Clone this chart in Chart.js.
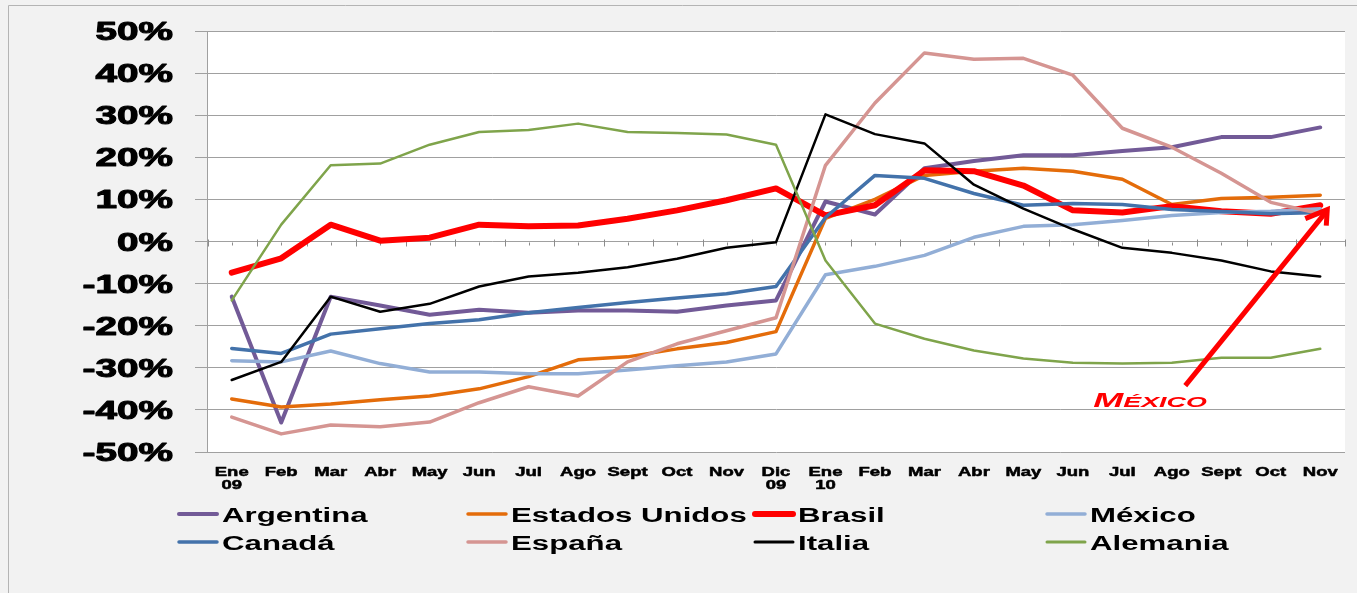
<!DOCTYPE html>
<html>
<head>
<meta charset="utf-8">
<script src="https://cdn.jsdelivr.net/npm/chart.js@4/dist/chart.umd.min.js"></script>
<style>
  html, body { margin: 0; padding: 0; background: #f2f2f2; }
  canvas { display: block; }
</style>
</head>
<body>
<canvas id="chart" width="1357" height="593"></canvas>
<script>
// ── Data (percent change) ──────────────────────────────────────────────────
const months = [['Ene', '09'], 'Feb', 'Mar', 'Abr', 'May', 'Jun', 'Jul', 'Ago', 'Sept', 'Oct', 'Nov', ['Dic', '09'],
                ['Ene', '10'], 'Feb', 'Mar', 'Abr', 'May', 'Jun', 'Jul', 'Ago', 'Sept', 'Oct', 'Nov'];
const yTicks = [-50, -40, -30, -20, -10, 0, 10, 20, 30, 40, 50];

const argentina     = [-13.1, -43, -13.1, -15.2, -17.4, -16.2, -16.9, -16.4, -16.4, -16.7, -15.2, -14, 9.5, 6.4, 17.4, 19.1, 20.5, 20.5, 21.5, 22.4, 24.8, 24.8, 27.1];
const estadosUnidos = [-37.4, -39.3, -38.6, -37.6, -36.7, -35, -32.1, -28.1, -27.4, -25.5, -24, -21.4, 5.5, 10, 15.7, 16.7, 17.4, 16.7, 14.8, 8.8, 10.2, 10.5, 11];
const brasil        = [-7.4, -4, 4, 0.2, 0.9, 4, 3.6, 3.8, 5.4, 7.4, 9.8, 12.6, 6.2, 8.6, 16.9, 16.7, 13.3, 7.4, 6.9, 8.4, 7.2, 6.6, 8.6];
const mexico        = [-28.3, -28.6, -26, -29, -31, -31, -31.4, -31.4, -30.5, -29.5, -28.6, -26.7, -7.9, -5.9, -3.3, 1, 3.6, 4, 5, 6.2, 6.9, 7.2, 7.8];
const canada        = [-25.4, -26.6, -22, -20.7, -19.5, -18.6, -16.9, -15.7, -14.5, -13.4, -12.4, -10.7, 5.7, 15.7, 15, 11.4, 8.6, 9, 8.8, 7.6, 7.1, 6.6, 6.9];
const espana        = [-41.7, -45.7, -43.6, -44, -42.9, -38.3, -34.5, -36.7, -28.6, -24.3, -21.2, -18.1, 18.1, 32.9, 44.8, 43.3, 43.5, 39.5, 26.9, 22.4, 16.2, 9.3, 6.6];
const italia        = [-32.9, -28.6, -13.1, -16.7, -14.8, -10.7, -8.3, -7.4, -6.1, -4.1, -1.5, -0.2, 30.2, 25.5, 23.3, 13.5, 7.8, 2.9, -1.5, -2.7, -4.5, -7.1, -8.3];
const alemania      = [-14, 4, 18.1, 18.5, 23, 26, 26.5, 28, 26, 25.8, 25.4, 23, -4.5, -19.5, -23.1, -25.9, -27.8, -28.8, -29, -28.8, -27.6, -27.6, -25.5];

const series = [
  { name: 'Argentina',      data: argentina,     color: '#725a97', width: 4 },
  { name: 'Estados Unidos', data: estadosUnidos, color: '#e46c0a', width: 3.5 },
  { name: 'Brasil',         data: brasil,        color: '#ff0000', width: 6 },
  { name: 'México',         data: mexico,        color: '#92aed6', width: 3.5 },
  { name: 'Canadá',         data: canada,        color: '#4372aa', width: 3.5 },
  { name: 'España',         data: espana,        color: '#d59592', width: 3.5 },
  { name: 'Italia',         data: italia,        color: '#000000', width: 2.5 },
  { name: 'Alemania',       data: alemania,      color: '#7fa44b', width: 2.5 },
];

// ── Helpers ────────────────────────────────────────────────────────────────
const FONT = '"Liberation Sans", Arial, sans-serif';

// text in the original is drawn horizontally stretched (and heavy)
function wideText(ctx, txt, x, y, sx, align, heavy) {
  const w = ctx.measureText(txt).width * sx;
  const left = align === 'right' ? x - w : align === 'center' ? x - w / 2 : x;
  ctx.save();
  ctx.translate(left, y);
  ctx.scale(sx, 1);
  ctx.textAlign = 'left';
  ctx.fillText(txt, 0, 0);
  if (heavy) {
    ctx.strokeStyle = ctx.fillStyle;
    ctx.lineWidth = heavy;
    ctx.lineJoin = 'round';
    ctx.strokeText(txt, 0, 0);
  }
  ctx.restore();
  return w;
}

const excelLook = {
  id: 'excelLook',
  beforeDraw(chart) {
    const { ctx, chartArea: a } = chart;
    ctx.save();
    ctx.fillStyle = '#ffffff';
    ctx.fillRect(a.left, a.top, a.right - a.left, a.bottom - a.top);
    ctx.strokeStyle = '#b4b4b4';
    ctx.lineWidth = 1;
    ctx.beginPath();
    ctx.moveTo(8.5, chart.height);
    ctx.lineTo(8.5, 5.5);
    ctx.lineTo(chart.width, 5.5);
    ctx.stroke();
    ctx.restore();
  },
  beforeDatasetsDraw(chart) {
    // category axis crossing at 0 with tick marks
    const { ctx, scales: { x, y } } = chart;
    const y0 = Math.round(y.getPixelForValue(0)) + 0.5;
    const half = (x.getPixelForValue(1) - x.getPixelForValue(0)) / 2;
    ctx.save();
    ctx.strokeStyle = '#8c8c8c';
    ctx.lineWidth = 1;
    ctx.beginPath();
    for (let i = 0; i < months.length; i++) {
      const cx = Math.round(x.getPixelForValue(i)) + 0.5;
      ctx.moveTo(cx, y0); ctx.lineTo(cx, y0 + 3);
      const bx = Math.round(cx - half) + 0.5;
      ctx.moveTo(bx, y0 - 3); ctx.lineTo(bx, y0 + 4);
    }
    const ex = Math.round(x.getPixelForValue(months.length - 1) + half) + 0.5;
    ctx.moveTo(ex, y0 - 3); ctx.lineTo(ex, y0 + 4);
    ctx.stroke();
    ctx.restore();
  },
  afterDraw(chart) {
    const { ctx, scales: { x, y } } = chart;
    ctx.save();
    ctx.fillStyle = '#000';
    ctx.textBaseline = 'alphabetic';

    // y tick labels
    ctx.font = 'bold 25px ' + FONT;
    y.ticks.forEach(t => {
      wideText(ctx, t.value + '%', 173, y.getPixelForValue(t.value) + 9, 1.55, 'right', 1);
    });

    // x tick labels
    ctx.font = 'bold 12.5px ' + FONT;
    months.forEach((m, i) => {
      const lines = Array.isArray(m) ? m : [m];
      const cx = x.getPixelForValue(i);
      lines.forEach((s, k) => wideText(ctx, s, cx, 476 + k * 13, 1.48, 'center', 0.5));
    });

    // legend, 4 columns x 2 rows
    const cols = [177, 466, 753, 1045];
    const rows = [514, 542];
    ctx.font = 'bold 19.5px ' + FONT;
    series.forEach((s, i) => {
      const lx = cols[i % 4], ly = rows[Math.floor(i / 4)];
      ctx.strokeStyle = s.color;
      ctx.lineWidth = Math.max(3, s.width);
      ctx.lineCap = 'round';
      ctx.beginPath();
      ctx.moveTo(lx + 2, ly); ctx.lineTo(lx + 40, ly);
      ctx.stroke();
      wideText(ctx, s.name, lx + 45, ly + 8, 1.6, 'left');
    });

    // MÉXICO arrow annotation
    const tipX = x.getPixelForValue(months.length - 1) + 7;
    const tipY = y.getPixelForValue(mexico[mexico.length - 1]) + 1;
    const tailX = tipX - 142, tailY = tipY + 176;
    ctx.strokeStyle = '#ff0000';
    ctx.lineWidth = 5;
    ctx.lineCap = 'butt';
    ctx.lineJoin = 'miter';
    ctx.beginPath();
    ctx.moveTo(tailX, tailY); ctx.lineTo(tipX - 1, tipY + 2);
    ctx.stroke();
    ctx.beginPath();
    ctx.moveTo(tipX - 22, tipY + 9);
    ctx.lineTo(tipX, tipY);
    ctx.lineTo(tipX - 1, tipY + 16);
    ctx.stroke();

    ctx.fillStyle = '#ff0000';
    const tx = tailX - 92, ty = tailY + 21;
    ctx.font = 'italic bold 19.5px ' + FONT;
    const wM = wideText(ctx, 'M', tx, ty, 1.85, 'left');
    ctx.font = 'italic bold 14.5px ' + FONT;
    wideText(ctx, 'ÉXICO', tx + wM, ty, 1.85, 'left');
    ctx.restore();
  }
};

// ── Chart ──────────────────────────────────────────────────────────────────
new Chart(document.getElementById('chart'), {
  type: 'line',
  data: {
    labels: months,
    datasets: series.map((s, i) => ({
      label: s.name,
      data: s.data,
      borderColor: s.color,
      backgroundColor: s.color,
      borderWidth: s.width,
      pointRadius: 0,
      tension: 0,
      borderJoinStyle: 'round',
      borderCapStyle: 'round',
      order: series.length - i,
    })),
  },
  options: {
    responsive: false,
    animation: false,
    layout: { padding: { top: 31, right: 12, left: 0, bottom: 0 } },
    plugins: { legend: { display: false }, tooltip: { enabled: false } },
    scales: {
      x: {
        offset: true,
        grid: { display: false },
        border: { display: false },
        ticks: { color: 'rgba(0,0,0,0)', font: { size: 8 }, autoSkip: false, maxRotation: 0 },
        afterFit: s => { s.height = 141; },
      },
      y: {
        min: -50, max: 50,
        afterBuildTicks: s => { s.ticks = yTicks.map(v => ({ value: v })); },
        grid: { color: '#a0a0a0', lineWidth: 1, tickLength: 12, drawTicks: true },
        border: { color: '#a0a0a0' },
        ticks: { color: 'rgba(0,0,0,0)', font: { size: 8 }, callback: v => v + '%' },
        afterFit: s => { s.width = 207; },
      },
    },
  },
  plugins: [excelLook],
});
</script>
</body>
</html>
